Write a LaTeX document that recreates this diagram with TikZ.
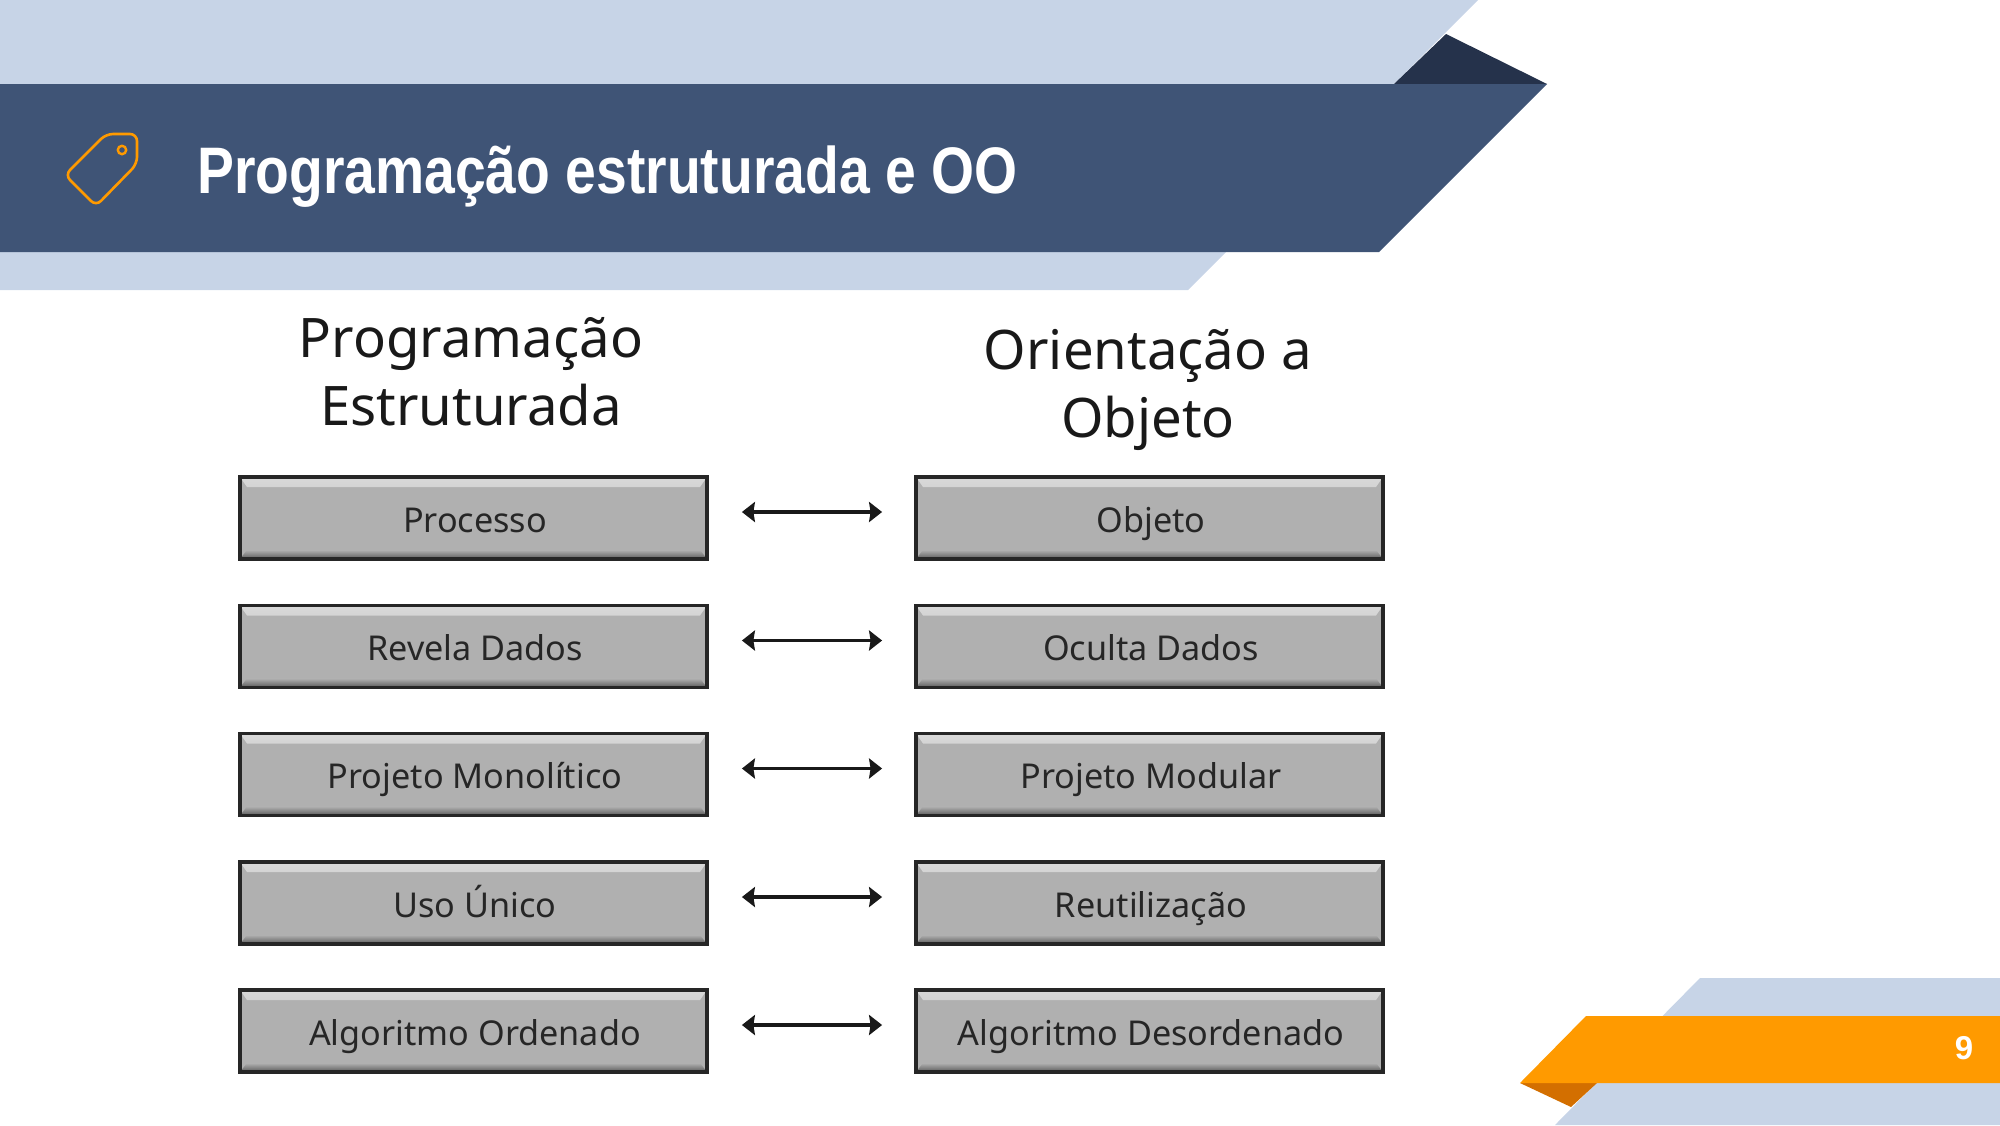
\documentclass[tikz,border=0pt]{standalone}
\usepackage{fontspec}
\setmainfont{Noto Sans}
\newfontfamily\titlefont[FakeStretch=0.84]{Liberation Sans}
\newfontfamily\numfont{Liberation Sans}
\newfontfamily\boxfont{Noto Sans}
\usetikzlibrary{arrows.meta,calc}
\definecolor{bandlight}{HTML}{C7D4E7}
\definecolor{banddark}{HTML}{3F5476}
\definecolor{foldnavy}{HTML}{25324B}
\definecolor{accent}{HTML}{FF9A00}
\definecolor{foldorange}{HTML}{D36F00}
\definecolor{boxgray}{HTML}{B0B0B0}
\tikzset{
  x=1pt,y=-1pt,
  bevelbox/.style={draw=black!85,line width=3.8pt,fill=boxgray,minimum width=467pt,minimum height=82pt,
    inner sep=0pt,outer sep=1.9pt,text=black!85,text height=30pt,text depth=2pt,
    font=\boxfont\fontsize{34.2}{34}\selectfont,execute at begin node={\hspace*{3pt}},
    path picture={
      \shade[top color=white!85!black,bottom color=boxgray] (path picture bounding box.north west) -- (path picture bounding box.north east)
        -- ++(-7pt,-10pt) -- ($(path picture bounding box.north west)+(7pt,-10pt)$) -- cycle;
      \shade[bottom color=black!65,top color=boxgray] (path picture bounding box.south west) -- (path picture bounding box.south east)
        -- ++(-7pt,9pt) -- ($(path picture bounding box.south west)+(7pt,9pt)$) -- cycle;
    }},
  biarrow/.style={line width=3.6pt,black!90,{Stealth[length=13pt,width=20pt,inset=1.5pt]}-{Stealth[length=13pt,width=20pt,inset=1.5pt]},shorten <=33pt,shorten >=32pt},
  headtext/.style={align=center,font=\fontsize{54.5}{68}\selectfont,text=black!90,inner sep=0pt},
}
\begin{document}
\begin{tikzpicture}
\useasboundingbox (0,0) rectangle (2000,1125);
% header bands
\fill[bandlight] (0,0) -- (1478,0) -- (1188,290) -- (0,290) -- cycle;
\fill[foldnavy] (1394,84) -- (1446,34) -- (1547,84) -- cycle;
\fill[banddark] (0,84) -- (1547,84) -- (1379,252) -- (0,252) -- cycle;
% footer bands
\fill[bandlight] (1700,978) -- (2000,978) -- (2000,1125) -- (1555,1125) -- (1700,978);
\fill[foldorange] (1520,1083) -- (1597,1083) -- (1571,1107) -- cycle;
\fill[accent] (1586,1016) -- (2000,1016) -- (2000,1083) -- (1520,1083) -- cycle;
\node[text=white,inner sep=0pt,font=\numfont\bfseries\fontsize{33}{33}\selectfont] (pagenum) at (1964,1048) {9};
% tag icon
\draw[accent,line width=2.6pt,rounded corners=7pt] (137,134) -- (106,134) -- (65,175) -- (96,206) -- (137,164) -- cycle;
\draw[accent,line width=2.4pt] (122,150) circle (4.2);
\node[anchor=west,text=white,inner sep=0pt,font=\titlefont\bfseries\fontsize{65.8}{66}\selectfont] (title) at (197,177) {Programação estruturada e OO};
% headings
\node[headtext] (hleft) at (471,372) {Programação\\Estruturada};
\node[headtext] (hright) at (1148,390) {Orientação a\\Objeto};
% boxes
\node[bevelbox] (l1) at (473.5,518) {Processo};
\node[bevelbox] (l2) at (473.5,646.5) {Revela Dados};
\node[bevelbox] (l3) at (473.5,774.5) {Projeto Monolítico};
\node[bevelbox] (l4) at (473.5,903) {Uso Único};
\node[bevelbox] (l5) at (473.5,1031) {Algoritmo Ordenado};
\node[bevelbox] (r1) at (1149.5,518) {Objeto};
\node[bevelbox] (r2) at (1149.5,646.5) {Oculta Dados};
\node[bevelbox] (r3) at (1149.5,774.5) {Projeto Modular};
\node[bevelbox] (r4) at (1149.5,903) {Reutilização};
\node[bevelbox] (r5) at (1149.5,1031) {Algoritmo Desordenado};
% connectors
\foreach \i in {1,...,5}{
  \draw[biarrow] ([yshift=6pt]l\i.east) -- ([yshift=6pt]r\i.west);
}
\end{tikzpicture}
\end{document}
